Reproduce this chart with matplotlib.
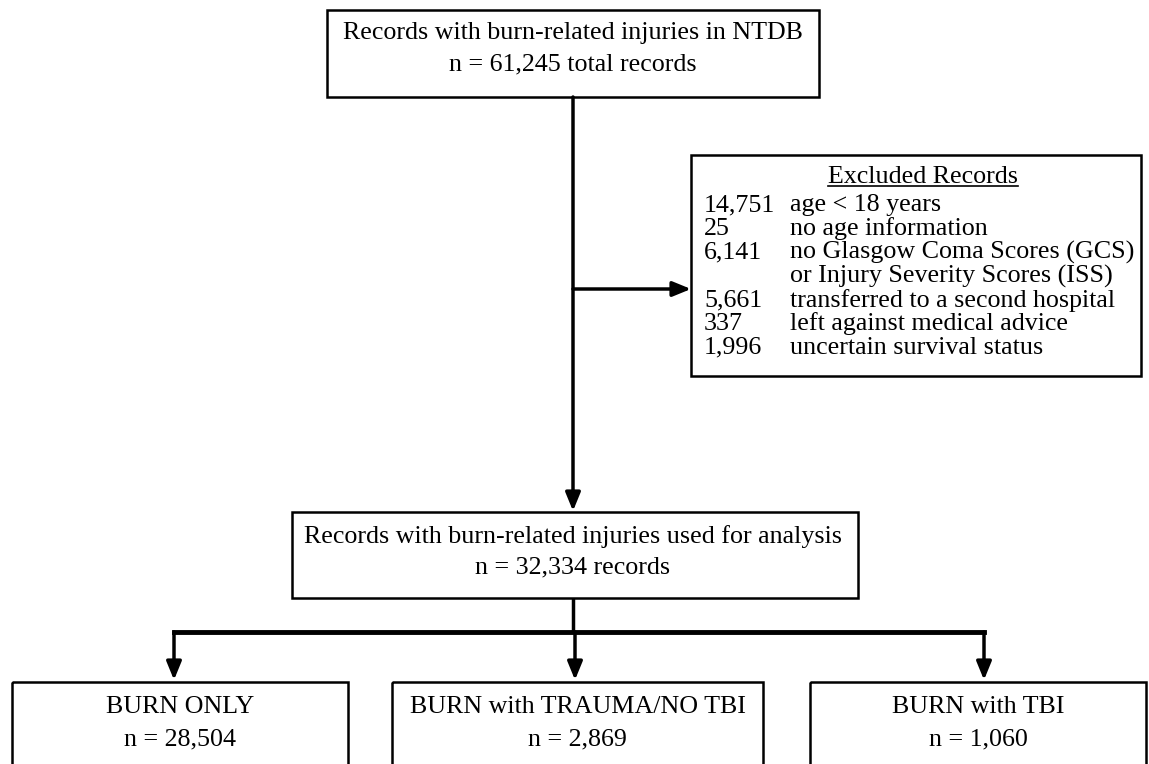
import matplotlib.pyplot as plt
from matplotlib.patches import Rectangle

plt.rcParams['font.family'] = ['Liberation Serif', 'DejaVu Serif']

# texts of the flow chart
top_lines = ['Records with burn-related injuries in NTDB', 'n = 61,245 total records']
mid_lines = ['Records with burn-related injuries used for analysis', 'n = 32,334 records']
excl_title = 'Excluded Records'
excl_counts = ['14,751', '25', '6,141', '', '5,661', '337', '1,996']
excl_reasons = ['age < 18 years', 'no age information', 'no Glasgow Coma Scores (GCS)',
                'or Injury Severity Scores (ISS)', 'transferred to a second hospital',
                'left against medical advice', 'uncertain survival status']
group_names = ['BURN ONLY', 'BURN with TRAUMA/NO TBI', 'BURN with TBI']
group_n = ['28,504', '2,869', '1,060']

W, H = 1149, 764
fig = plt.figure(figsize=(W / 100, H / 100), dpi=100)
ax = fig.add_axes([0, 0, 1, 1])
ax.set_xlim(0, W)
ax.set_ylim(H, 0)
ax.axis('off')

fs = 18.7


def box(x0, y0, x1, y1, lw=1.8):
    ax.add_patch(Rectangle((x0, y0), x1 - x0, y1 - y0, fill=False, ec='black', lw=lw))


def arrow(x0, y0, x1, y1):
    ax.annotate('', xy=(x1, y1), xytext=(x0, y0),
                arrowprops=dict(arrowstyle='-|>,head_length=1.1,head_width=0.45',
                                lw=2.5, color='black', shrinkA=0, shrinkB=0))


cx = 573
# top box
box(327, 10, 819, 97)
ax.text(cx, 33, top_lines[0], ha='center', va='center', fontsize=fs)
ax.text(cx, 64, top_lines[1], ha='center', va='center', fontsize=fs)

# main vertical arrow and side arrow
arrow(cx, 97, cx, 511)
arrow(cx, 289, 691, 289)

# excluded box
box(691, 155, 1141, 376)
t = ax.text(923, 177, excl_title, ha='center', va='center', fontsize=fs)
fig.canvas.draw()
bb = t.get_window_extent().transformed(ax.transData.inverted())
yu = max(bb.y0, bb.y1) - 2
ax.plot([bb.x0, bb.x1], [yu, yu], color='black', lw=1.2)
for i, (c, r) in enumerate(zip(excl_counts, excl_reasons)):
    y = 205 + i * 23.8
    ax.text(704, y, c, ha='left', va='center', fontsize=fs)
    ax.text(790, y, r, ha='left', va='center', fontsize=fs)

# middle box
box(292, 512, 858, 598)
ax.text(cx, 537, mid_lines[0], ha='center', va='center', fontsize=fs)
ax.text(cx, 567, mid_lines[1], ha='center', va='center', fontsize=fs)

# branches
ax.plot([cx, cx], [598, 632], color='black', lw=2.5, solid_capstyle='butt')
branch_x = [174, 575, 984]
ax.plot([branch_x[0], branch_x[-1]], [632, 632], color='black', lw=3.5, solid_capstyle='projecting')
for bx in branch_x:
    arrow(bx, 632, bx, 680)

boxes = [(12, 348), (392, 763), (810, 1146)]
for (x0, x1), name, n in zip(boxes, group_names, group_n):
    box(x0, 682, x1, H + 5)
    xm = (x0 + x1) / 2
    ax.text(xm, 707, name, ha='center', va='center', fontsize=fs)
    ax.text(xm, 739, 'n = ' + n, ha='center', va='center', fontsize=fs)

fig.savefig('out.png', dpi=100, facecolor='white')
